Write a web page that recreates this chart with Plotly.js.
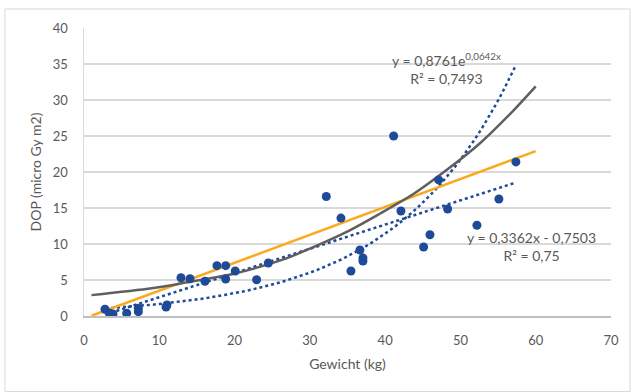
<!DOCTYPE html>
<html>
<head>
<meta charset="utf-8">
<script src="https://cdn.plot.ly/plotly-3.0.1.min.js"></script>
<style>
html,body{margin:0;padding:0;background:#fff;}
#chart{width:632px;height:392px;}
</style>
</head>
<body>
<div id="chart"></div>
<script>
// Measured data points: weight (kg) vs DOP (micro Gy m2)
var weight = [2.79, 3.45, 3.85, 5.67, 7.22, 7.22, 10.89, 11.02, 12.88, 14.08, 16.07, 17.66, 18.82, 18.82, 20.09, 22.93, 24.48, 32.18, 34.13, 35.46, 36.65, 37.05, 37.05, 41.13, 42.1, 45.11, 45.95, 47.1, 48.3, 52.19, 55.11, 57.37];
var dop    = [0.93, 0.38, 0.28, 0.38, 1.07, 0.6, 1.25, 1.53, 5.32, 5.18, 4.82, 6.99, 6.99, 5.14, 6.25, 5.04, 7.36, 16.6, 13.6, 6.25, 9.17, 8.06, 7.64, 25.0, 14.58, 9.58, 11.29, 18.9, 14.86, 12.6, 16.25, 21.4];

// Trendline coefficients as printed on the chart
var expA = 0.8761, expB = 0.0642;
var linSlope = 0.3362, linIntercept = -0.7503;

// Gray curve
var grayX = [1, 9, 13.3, 20, 26.6, 29.2, 35.3, 39.3, 43.7, 48.2, 52.6, 57, 60];
var grayY = [2.9, 3.85, 4.6, 5.9, 7.9, 9.0, 11.9, 14.2, 16.9, 20.3, 24.0, 28.5, 31.9];

// Orange line
var orangeX = [1, 60];
var orangeY = [0.03, 22.9];

// x ticks / y ticks
var xTicks = [0, 10, 20, 30, 40, 50, 60, 70];
var yTicks = [0, 5, 10, 15, 20, 25, 30, 35, 40];

var xMin = Math.min.apply(null, weight), xMax = Math.max.apply(null, weight);
var trendX = [];
var nSteps = 60;
for (var i = 0; i <= nSteps; i++) trendX.push(xMin + (xMax - xMin) * i / nSteps);
var expY = trendX.map(function (x) { return expA * Math.exp(expB * x); });
var linY = trendX.map(function (x) { return linSlope * x + linIntercept; });

var blue = '#1f4a98';
var txt = '#595959';
var fontFam = 'Lato, "Open Sans", sans-serif';

var traces = [
  {x: trendX, y: expY, mode: 'lines', line: {color: blue, width: 2.5, dash: 'dot'}, hoverinfo: 'skip'},
  {x: trendX, y: linY, mode: 'lines', line: {color: blue, width: 2.5, dash: 'dot'}, hoverinfo: 'skip'},
  {x: orangeX, y: orangeY, mode: 'lines', line: {color: '#fba91f', width: 2.5}, hoverinfo: 'skip'},
  {x: grayX, y: grayY, mode: 'lines', line: {color: '#5f5f5f', width: 2.5, shape: 'spline', smoothing: 0.8}, hoverinfo: 'skip'},
  {x: weight, y: dop, mode: 'markers', marker: {color: blue, size: 9}}
];

var layout = {
  width: 632, height: 392,
  margin: {l: 84, r: 21, t: 28, b: 76},
  paper_bgcolor: '#ffffff', plot_bgcolor: '#ffffff',
  showlegend: false,
  font: {family: fontFam, color: txt, size: 13},
  xaxis: {
    range: [0, 70], tickvals: xTicks, ticktext: xTicks.map(String),
    showgrid: false, zeroline: false,
    showline: true, linecolor: '#bfbfbf', linewidth: 1.5,
    ticks: '', ticklabelstandoff: 12,
    tickfont: {size: 13, color: txt, family: fontFam},
    title: {text: 'Gewicht (kg)', font: {size: 14, color: txt, family: fontFam}, standoff: 12}
  },
  yaxis: {
    range: [0, 40], tickvals: yTicks, ticktext: yTicks.map(String),
    showgrid: true, gridcolor: '#d9d9d9', gridwidth: 1.5, zeroline: false,
    showline: true, linecolor: '#d9d9d9', linewidth: 1.5,
    ticks: '', ticklabelstandoff: 12,
    tickfont: {size: 13, color: txt, family: fontFam},
    title: {text: 'DOP (micro Gy m2)', font: {size: 14, color: txt, family: fontFam}, standoff: 8}
  },
  annotations: [
    {x: 48.2, y: 34.4, xref: 'x', yref: 'y', showarrow: false, align: 'center',
     text: 'y = 0,8761e<sup>0,0642x</sup><br>R² = 0,7493', font: {size: 14, color: txt, family: fontFam}},
    {x: 59.4, y: 9.6, xref: 'x', yref: 'y', showarrow: false, align: 'center',
     text: 'y = 0,3362x - 0,7503<br>R² = 0,75', font: {size: 14, color: txt, family: fontFam}}
  ],
  shapes: [
    {type: 'rect', xref: 'paper', yref: 'paper', x0: -0.150, x1: 1.036, y0: -0.262, y1: 1.066,
     line: {color: '#d9d9d9', width: 1}, fillcolor: 'rgba(0,0,0,0)', layer: 'below'}
  ]
};

Plotly.newPlot('chart', traces, layout, {displayModeBar: false, staticPlot: true});
</script>
</body>
</html>
